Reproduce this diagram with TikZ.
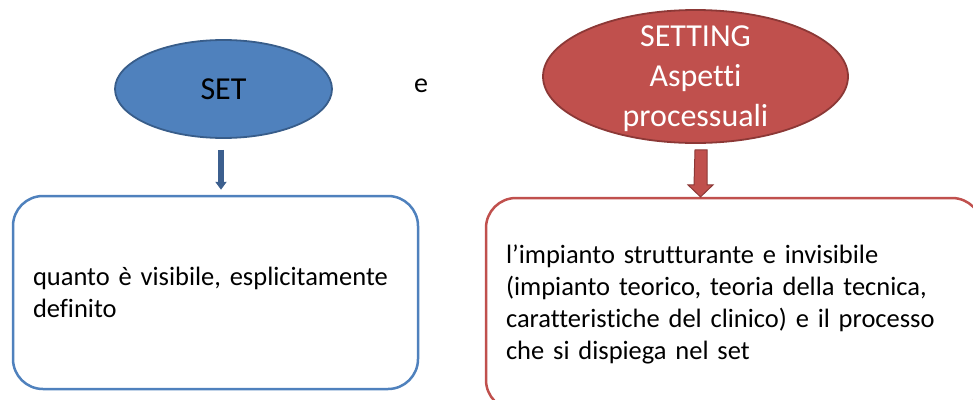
\documentclass[tikz,border=0pt]{standalone}
\usepackage{fontspec}
\setmainfont{Carlito}[Ligatures=NoCommon]
\usetikzlibrary{shapes.geometric,arrows.meta,calc}
\definecolor{bfill}{HTML}{4F81BD}
\definecolor{bdark}{HTML}{385D8A}
\definecolor{barrow}{HTML}{3C5F8E}
\definecolor{rfill}{HTML}{C0504D}
\definecolor{rdark}{HTML}{8C3836}
\tikzset{
  ellset/.style={ellipse, fill=bfill, draw=bdark, line width=1.8pt, inner sep=0pt},
  ellsetting/.style={ellipse, fill=rfill, draw=rdark, line width=1.8pt, inner sep=0pt},
  boxtext/.style={rounded corners=30pt, line width=2.5pt, inner xsep=20pt, inner ysep=0pt, align=left,
     font=\fontsize{26.5}{32}\selectfont},
}
\begin{document}
\begin{tikzpicture}[x=1pt,y=-1pt]
\useasboundingbox (0,0) rectangle (973,399);
\node[ellset, minimum width=217pt, minimum height=98pt, font=\fontsize{32}{39}\selectfont] (set) at (223.5,89) {SET};
\node[ellsetting, minimum width=305pt, minimum height=133pt] (setting) at (695.5,76.5) {};
\node[text=white, align=center, font=\fontsize{32}{40}\selectfont, inner sep=0pt] (settingtext) at ([yshift=-2pt]setting.center) {SETTING\\Aspetti\\processuali};
\node[font=\fontsize{28}{34}\selectfont] (e) at (421,86) {e};
\node[boxtext, draw=bfill, minimum width=405pt, minimum height=193pt, text width=365pt] (setbox) at (215.5,292.5)
  {quanto è visibile, esplicitamente\\definito};
\node[boxtext, draw=rfill, minimum width=496pt, minimum height=212pt, text width=456pt] (settingbox) at (734,304)
  {l’impianto strutturante e invisibile\\(impianto teorico, teoria della tecnica,\\caratteristiche del clinico) e il processo\\che si dispiega nel set};
\draw[barrow, line width=6pt, -{Triangle[width=11pt,length=8pt]}]
  ([xshift=-2.5pt,yshift=-11pt]set.south) -- ([xshift=5.5pt,yshift=5pt]setbox.north);
\draw[rdark, fill=rfill, line width=1pt]
  ($(setting.south)+(-0.5,6)$) -- ++(12,0) -- ++(0,35) -- ++(6,0) -- ++(-12.5,12) -- ++(-12.5,-12) -- ++(6,0) -- cycle;
\end{tikzpicture}
\end{document}
